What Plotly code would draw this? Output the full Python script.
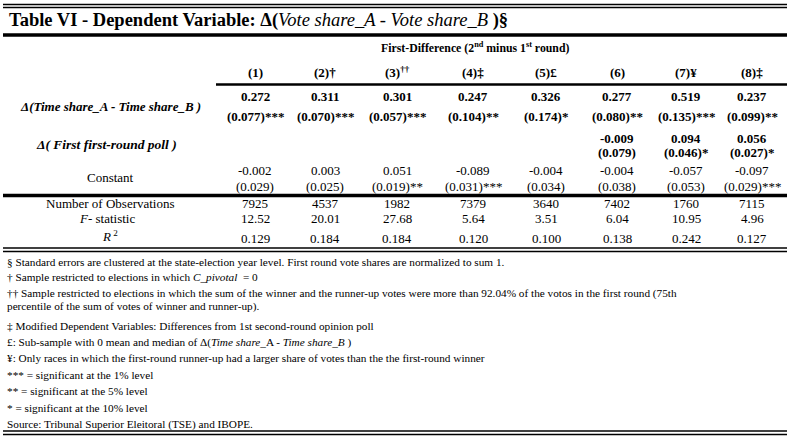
import plotly.graph_objects as go

# ---------------- data ----------------
columns = ["(1)", "(2)†", "(3)<sup>††</sup>", "(4)‡", "(5)£", "(6)", "(7)¥", "(8)‡"]
time_coef = ["0.272", "0.311", "0.301", "0.247", "0.326", "0.277", "0.519", "0.237"]
time_se = ["(0.077)***", "(0.070)***", "(0.057)***", "(0.104)**", "(0.174)*",
           "(0.080)**", "(0.135)***", "(0.099)**"]
poll_coef = ["", "", "", "", "", "-0.009", "0.094", "0.056"]
poll_se = ["", "", "", "", "", "(0.079)", "(0.046)*", "(0.027)*"]
const_coef = ["-0.002", "0.003", "0.051", "-0.089", "-0.004", "-0.004", "-0.057", "-0.097"]
const_se = ["(0.029)", "(0.025)", "(0.019)**", "(0.031)***", "(0.034)", "(0.038)",
            "(0.053)", "(0.029)***"]
n_obs = ["7925", "4537", "1982", "7379", "3640", "7402", "1760", "7115"]
f_stat = ["12.52", "20.01", "27.68", "5.64", "3.51", "6.04", "10.95", "4.96"]
r_squared = ["0.129", "0.184", "0.184", "0.120", "0.100", "0.138", "0.242", "0.127"]

title = "<b>Table VI - Dependent Variable: Δ(</b><i>Vote share_A - Vote share_B </i><b>)§</b>"
group_header = "<b>First-Difference (2<sup>nd</sup> minus 1<sup>st</sup> round)</b>"
row_labels = {
    "time": "<b><i>Δ(Time share_A - Time share_B )</i></b>",
    "poll": "<b><i>Δ( First first-round poll )</i></b>",
    "const": "Constant",
    "nobs": "Number of Observations",
    "fstat": "<i>F</i>- statistic",
    "r2": "<i>R</i><sup> 2</sup>",
}
footnotes = [
    "§ Standard errors are clustered at the state-election year level. First round vote shares are normalized to sum 1.",
    "† Sample restricted to elections in which <i>C_pivotal</i>  = 0",
    "†† Sample restricted to elections in which the sum of the winner and the runner-up votes were more than 92.04% of the votos in the first round (75th",
    "percentile of the sum of votes of winner and runner-up).",
    "‡ Modified Dependent Variables: Differences from 1st second-round opinion poll",
    "£: Sub-sample with 0 mean and median of Δ(<i>Time share</i>_A - <i>Time share_B</i> )",
    "¥: Only races in which the first-round runner-up had a larger share of votes than the the first-round winner",
    "*** = significant at the 1% level",
    "** = significant at the 5% level",
    "* = significant at the 10% level",
    "Source: Tribunal Superior Eleitoral (TSE) and IBOPE.",
]

# ---------------- layout constants ----------------
W, H = 792, 439
FONT = "Liberation Serif, Times New Roman, serif"
col_x = [255, 325, 397, 473, 546, 617, 686, 752]
label_x = 110
body_size = 13
foot_size = 11.25

fig = go.Figure()
ann = []


def add(x, y, text, size=body_size, anchor="center"):
    ann.append(dict(x=x, y=y, xref="x", yref="y", text=text, showarrow=False,
                    xanchor=anchor, yanchor="middle",
                    font=dict(family=FONT, size=size, color="black")))


add(7, 20, title, size=18.5, anchor="left")
add(475, 47, group_header, size=11.8)

for i, x in enumerate(col_x):
    add(x, 72, "<b>" + columns[i] + "</b>")
    add(x, 96, "<b>" + time_coef[i] + "</b>")
    add(x, 116, "<b>" + time_se[i] + "</b>")
    if poll_coef[i]:
        add(x, 138, "<b>" + poll_coef[i] + "</b>")
        add(x, 152, "<b>" + poll_se[i] + "</b>")
    add(x, 170, const_coef[i])
    add(x, 186, const_se[i])
    add(x, 203, n_obs[i])
    add(x, 218, f_stat[i])
    add(x, 238, r_squared[i])

add(label_x, 106, row_labels["time"])
add(label_x - 4, 144, row_labels["poll"], size=13.5)
add(label_x, 177, row_labels["const"])
add(label_x, 203, row_labels["nobs"])
add(label_x - 3, 218, row_labels["fstat"])
add(label_x, 236, row_labels["r2"])

foot_y = [262, 277, 293, 306, 326, 342, 358, 375, 391, 408, 424]
for t, y in zip(footnotes, foot_y):
    add(5, y, t, size=foot_size, anchor="left")

shapes = []


def hline(y, x0, x1, w):
    shapes.append(dict(type="line", xref="x", yref="y", x0=x0, x1=x1, y0=y, y1=y,
                       line=dict(color="black", width=w)))


hline(4.5, 3, 787, 1.3)
hline(7.5, 3, 787, 1.3)
hline(35, 3, 787, 3.5)
hline(84.5, 216, 787, 2.5)
hline(195.5, 3, 787, 3.5)
hline(248, 3, 787, 1.3)
hline(251.5, 3, 787, 1.3)
hline(431, 3, 787, 1.3)
hline(434.5, 3, 787, 1.3)

fig.update_layout(
    width=W, height=H, autosize=False,
    margin=dict(l=0, r=0, t=0, b=0, pad=0),
    paper_bgcolor="white", plot_bgcolor="white",
    xaxis=dict(range=[0, W], visible=False, fixedrange=True),
    yaxis=dict(range=[H, 0], visible=False, fixedrange=True),
    annotations=ann, shapes=shapes, showlegend=False,
)

fig.write_html("out.html", config={"displayModeBar": False},
               post_script="document.body.style.margin='0';document.body.style.overflow='hidden';")
